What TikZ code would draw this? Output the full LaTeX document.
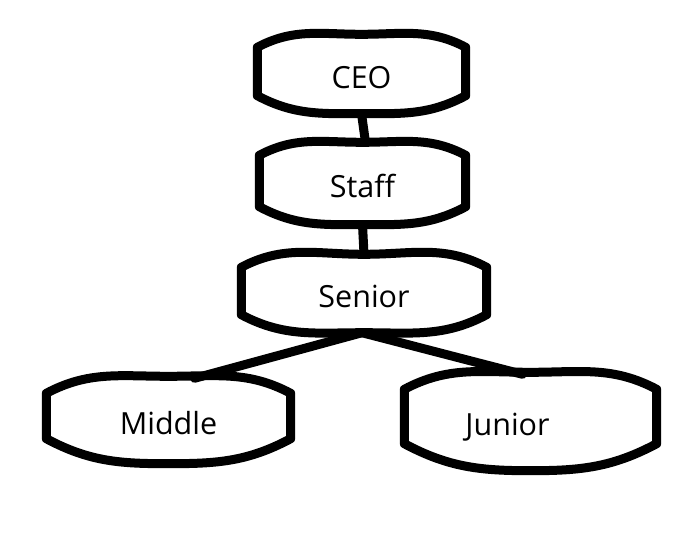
\documentclass[tikz,border=0pt]{standalone}
\usepackage{fontspec}
\setmainfont{Open Sans}
\tikzset{
	rank/.style={minimum width=#1, inner sep=0pt, text height=28pt, text depth=0pt, font=\fontsize{30.5}{36}\selectfont},
	frame/.style={line width=9pt, line join=round},
	link/.style={line width=9pt, line cap=round}
}
\begin{document}
\begin{tikzpicture}[x=1pt,y=-1pt]
	\useasboundingbox (0,0) rectangle (695,551);
	\node[rank=208pt, minimum height=79pt] (ceo) at (361.5,74) {CEO};
	\node[rank=206pt, minimum height=82pt] (staff) at (362.5,183.5) {Staff};
	\node[rank=245pt, minimum height=78pt] (senior) at (364,293.5) {Senior};
	\node[rank=244pt, minimum height=87pt] (middle) at (168.5,420) {Middle};
	\node[rank=252pt, minimum height=98pt] (junior) at (530.5,421.5) {Junior\hspace*{46pt}};
	
	% barrel outline round each box
	\foreach \n/\t/\b in {ceo/13/18, staff/13/18, senior/13/18, middle/17/25, junior/17/27}
		\draw[frame] ([yshift=-\t pt]\n.north west) to[out=28,in=180] (\n.north) to[out=0,in=152] ([yshift=-\t pt]\n.north east)
			-- ([yshift=\b pt]\n.south east) to[out=-152,in=0] (\n.south) to[out=180,in=-28] ([yshift=\b pt]\n.south west) -- cycle;
	
	\draw[link] (ceo.south) -- ([xshift=3pt]staff.north);
	\draw[link] (staff.south) -- (senior.north);
	\draw[link] ([xshift=-2pt]senior.south) -- ([xshift=26pt,yshift=-2pt]middle.north);
	\draw[link] ([xshift=-2pt]senior.south) -- ([xshift=-8pt,yshift=-2pt]junior.north);
\end{tikzpicture}
\end{document}
